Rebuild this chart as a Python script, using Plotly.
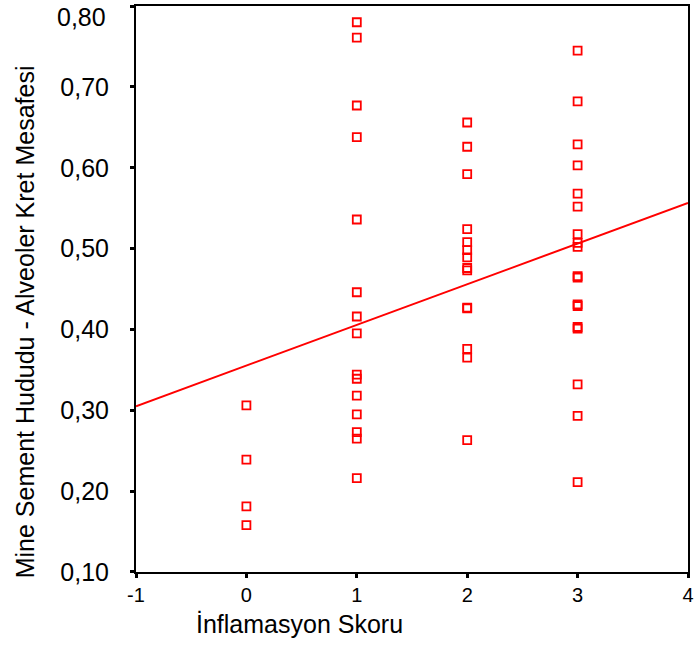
import numpy as np
import plotly.graph_objects as go

# Inflammation score groups and the measured distance values for each
score_0 = [0.306, 0.239, 0.181, 0.158]
score_1 = [0.780, 0.761, 0.677, 0.638, 0.536, 0.446, 0.416, 0.395,
           0.344, 0.339, 0.318, 0.295, 0.273, 0.265, 0.216]
score_2 = [0.656, 0.626, 0.592, 0.524, 0.508, 0.498, 0.489, 0.476,
           0.473, 0.427, 0.426, 0.376, 0.365, 0.263]
score_3 = [0.745, 0.682, 0.629, 0.603, 0.568, 0.552, 0.518, 0.507,
           0.502, 0.466, 0.464, 0.431, 0.429, 0.403, 0.401, 0.332,
           0.293, 0.211]

# Linear fit line (intercept at score 0, slope per score step)
fit_intercept = 0.3553
fit_slope = 0.0503

x_ticks = [-1, 0, 1, 2, 3, 4]
x_tick_text = ["-1", "0", "1", "2", "3", "4"]
y_ticks = [0.10, 0.20, 0.30, 0.40, 0.50, 0.60, 0.70, 0.80]
y_tick_text = ["0,10", "0,20", "0,30", "0,40", "0,50", "0,60", "0,70", "0,80"]

x_title = "İnflamasyon Skoru"
y_title = "Mine Sement Hududu - Alveoler Kret Mesafesi"

xs, ys = [], []
for score, vals in zip([0, 1, 2, 3], [score_0, score_1, score_2, score_3]):
    xs += [score] * len(vals)
    ys += vals

line_x = np.array([-1.0, 4.0])
line_y = fit_intercept + fit_slope * line_x

RED = "#ff0000"

fig = go.Figure()
fig.add_trace(go.Scatter(
    x=line_x, y=line_y, mode="lines",
    line=dict(color=RED, width=2), hoverinfo="skip", showlegend=False,
))
fig.add_trace(go.Scatter(
    x=xs, y=ys, mode="markers",
    marker=dict(symbol="square-open", size=8, color=RED, line=dict(width=1.8, color=RED)),
    showlegend=False,
))

font_family = "Liberation Sans, Arial, sans-serif"

L, R, T, B = 136, 8, 4, 75
W, H = 698, 647
pw, ph = W - L - R, H - T - B

# The top tick label sits just below the frame so it stays inside the page
y_axis_text = y_tick_text[:-1] + [""]

annotations = [
    dict(text=x_title, xref="paper", yref="paper",
         x=(300 - L) / pw, y=-(624 - (H - B)) / ph,
         xanchor="center", yanchor="middle", showarrow=False,
         font=dict(size=25, family=font_family)),
    dict(text=y_title, xref="paper", yref="paper",
         x=-(L - 24) / pw, y=((H - B) - 321) / ph,
         xanchor="center", yanchor="middle", textangle=-90, showarrow=False,
         font=dict(size=25, family=font_family)),
    dict(text=y_tick_text[-1], xref="paper", yref="paper",
         x=-(L - 108) / pw, y=1 - (15 - T) / ph,
         xanchor="right", yanchor="middle", showarrow=False,
         font=dict(size=25, family=font_family)),
]

fig.update_layout(
    width=W, height=H,
    margin=dict(l=L, r=R, t=T, b=B),
    paper_bgcolor="white", plot_bgcolor="white",
    font=dict(family=font_family, color="black"),
    xaxis=dict(
        range=[-1, 4], tickvals=x_ticks, ticktext=x_tick_text,
        showgrid=False, zeroline=False,
        showline=True, linecolor="black", linewidth=2, mirror=True,
        ticks="outside", ticklen=4, tickwidth=3, tickcolor="black",
        tickfont=dict(size=20, family=font_family),
    ),
    yaxis=dict(
        range=[0.0999, 0.8001], tickvals=y_ticks, ticktext=y_axis_text,
        showgrid=False, zeroline=False,
        showline=True, linecolor="black", linewidth=2, mirror=True,
        ticks="outside", ticklen=4, tickwidth=3, tickcolor="black",
        tickfont=dict(size=25, family=font_family),
        ticklabelstandoff=16,
    ),
    annotations=annotations,
)

fig.write_html("out.html")
